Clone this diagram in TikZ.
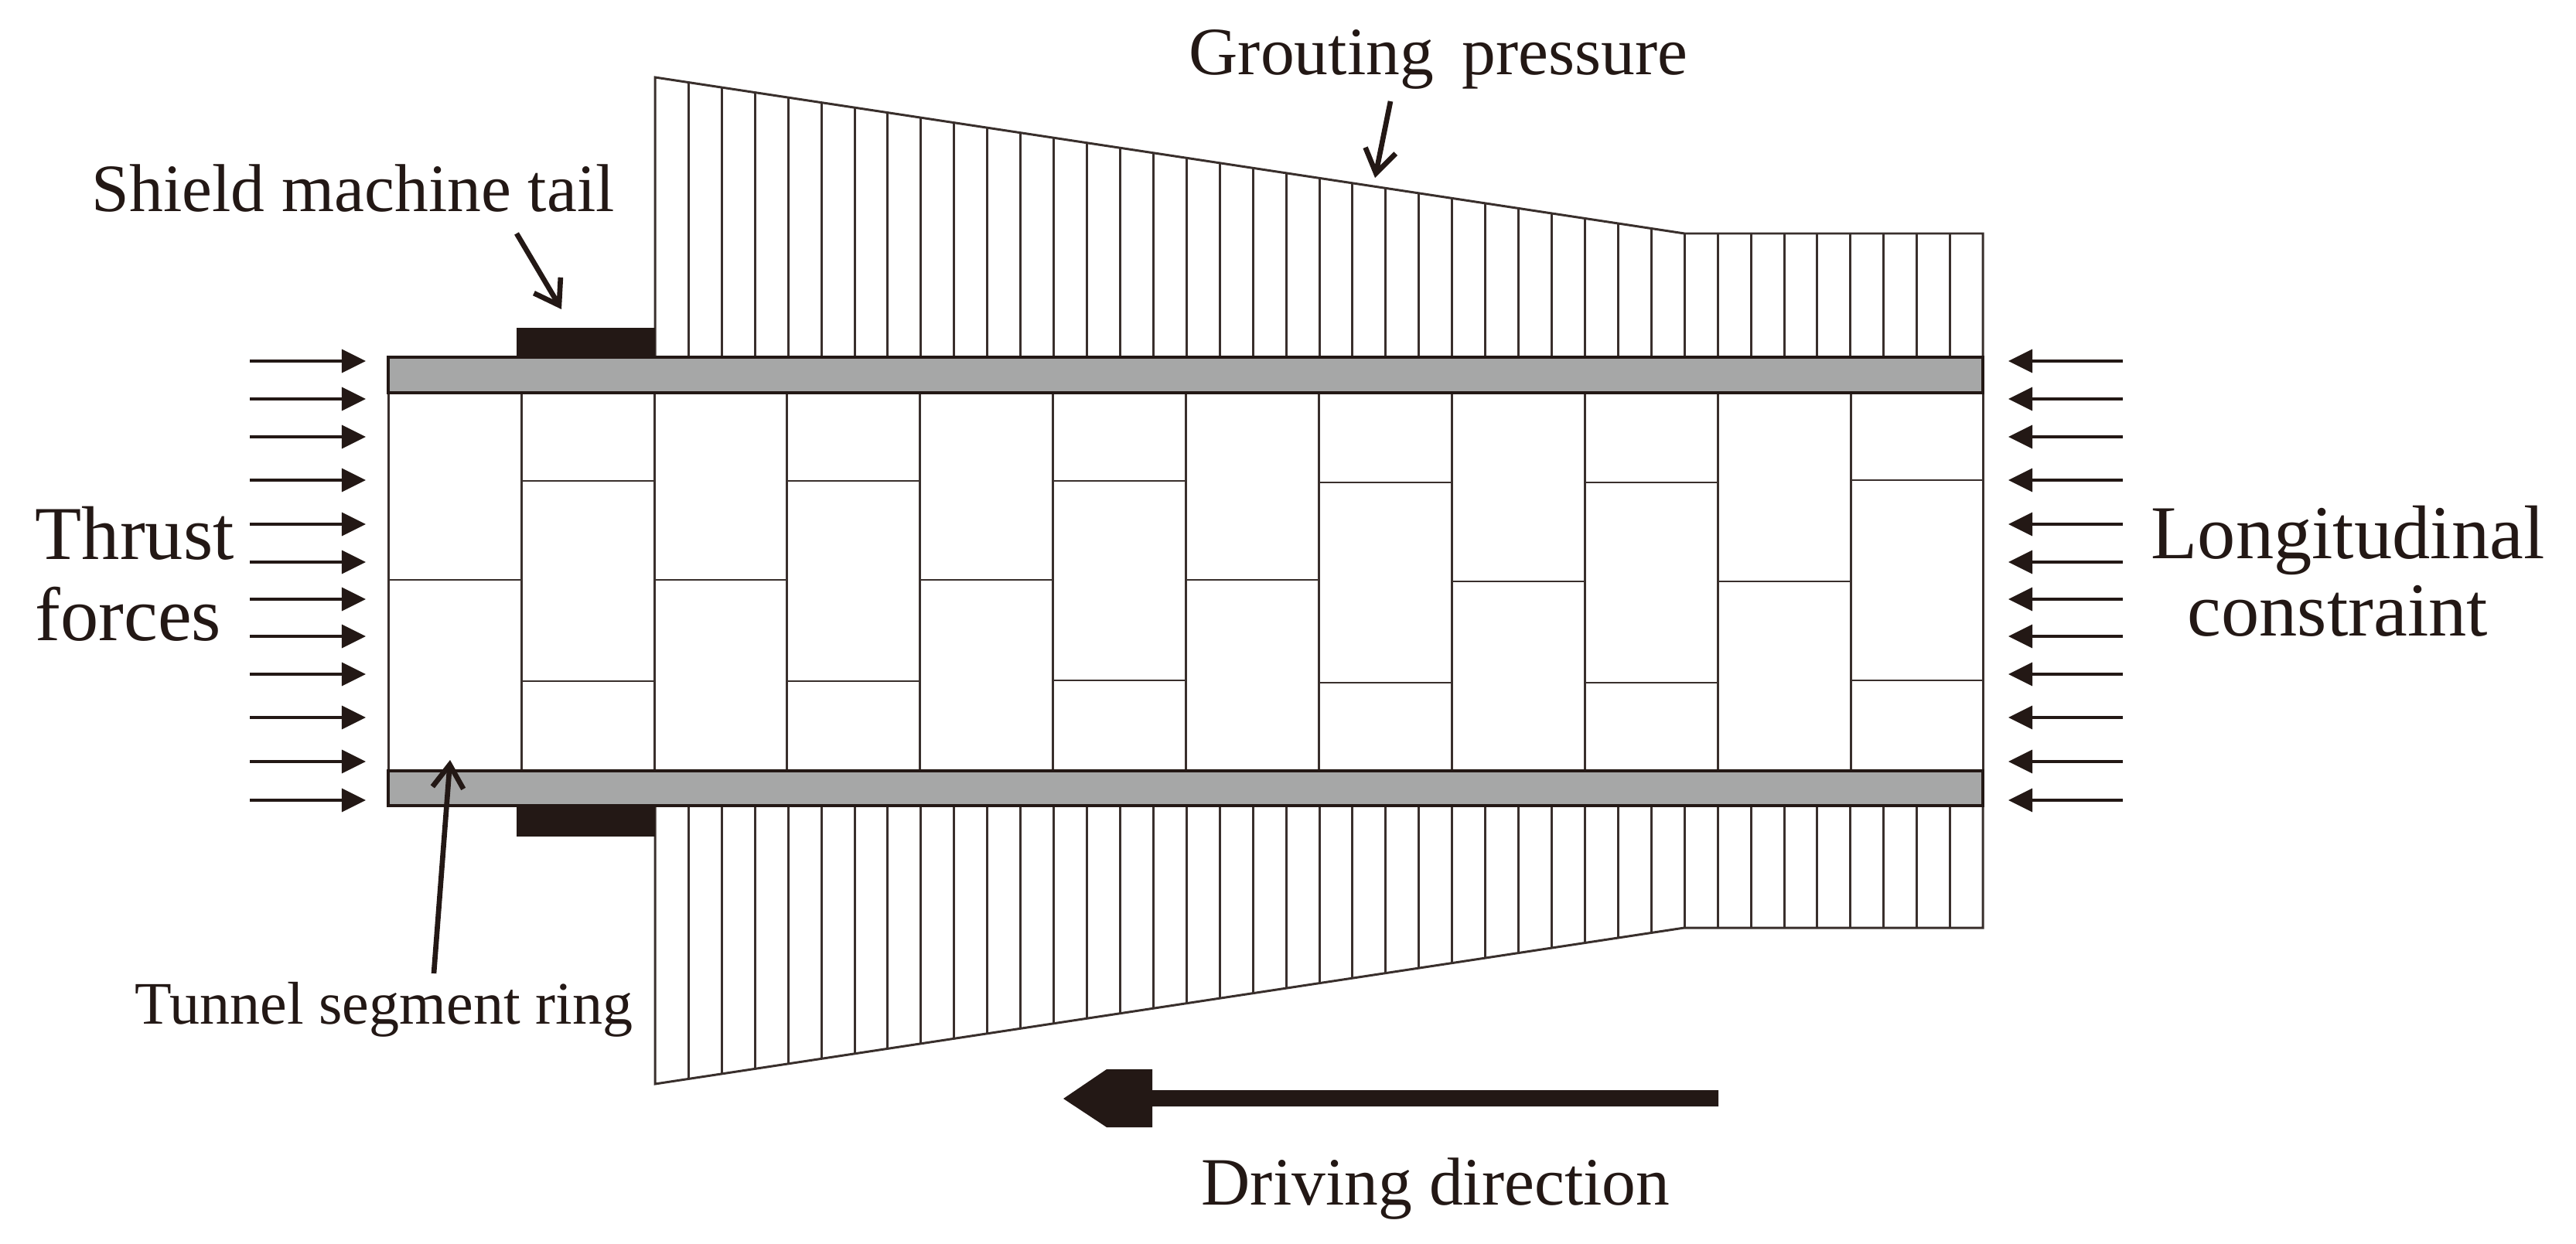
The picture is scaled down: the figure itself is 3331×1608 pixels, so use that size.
\documentclass[tikz,border=0pt]{standalone}
\usepackage{fontspec}
\setmainfont{Liberation Serif}
\usetikzlibrary{arrows.meta}
\definecolor{inkblack}{HTML}{231815}
\definecolor{ringgray}{HTML}{A6A7A7}
\tikzset{
  thinline/.style={draw=inkblack!90, line width=0.85pt},
  ringbar/.style={draw=inkblack, fill=ringgray, line width=0.95pt},
  tailblock/.style={fill=inkblack},
  forcearrow/.style={draw=inkblack, line width=0.9pt, -{Triangle[length=0.31cm, width=0.3cm, fill=inkblack]}},
  pointerarrow/.style={draw=inkblack, line width=1.9pt, -{Straight Barb[length=0.3cm, width=0.4cm]}},
  labelsmall/.style={inner sep=0pt, anchor=base west, text=inkblack, font=\fontsize{22.2}{26}\selectfont},
  labelmid/.style={inner sep=0pt, anchor=base west, text=inkblack, font=\fontsize{24.9}{30}\selectfont},
  labelbig/.style={inner sep=0pt, anchor=base west, text=inkblack, font=\fontsize{28}{34}\selectfont},
}
\begin{document}
\begin{tikzpicture}[x=.01cm, y=.01cm]
\useasboundingbox (0,0) rectangle (3331,1608);
% top pressure block
\draw[thinline] (847,1146) -- (847,1508) -- (2178,1306) -- (2564,1306) -- (2564,1146);
\draw[thinline] (890,1146) -- (890,1501);
\draw[thinline] (933,1146) -- (933,1495);
\draw[thinline] (976,1146) -- (976,1488);
\draw[thinline] (1019,1146) -- (1019,1482);
\draw[thinline] (1062,1146) -- (1062,1475);
\draw[thinline] (1105,1146) -- (1105,1469);
\draw[thinline] (1147,1146) -- (1147,1462);
\draw[thinline] (1190,1146) -- (1190,1456);
\draw[thinline] (1233,1146) -- (1233,1449);
\draw[thinline] (1276,1146) -- (1276,1443);
\draw[thinline] (1319,1146) -- (1319,1436);
\draw[thinline] (1362,1146) -- (1362,1430);
\draw[thinline] (1405,1146) -- (1405,1423);
\draw[thinline] (1448,1146) -- (1448,1417);
\draw[thinline] (1491,1146) -- (1491,1410);
\draw[thinline] (1534,1146) -- (1534,1404);
\draw[thinline] (1577,1146) -- (1577,1397);
\draw[thinline] (1620,1146) -- (1620,1391);
\draw[thinline] (1663,1146) -- (1663,1384);
\draw[thinline] (1706,1146) -- (1706,1378);
\draw[thinline] (1748,1146) -- (1748,1371);
\draw[thinline] (1791,1146) -- (1791,1365);
\draw[thinline] (1834,1146) -- (1834,1358);
\draw[thinline] (1877,1146) -- (1877,1352);
\draw[thinline] (1920,1146) -- (1920,1345);
\draw[thinline] (1963,1146) -- (1963,1339);
\draw[thinline] (2006,1146) -- (2006,1332);
\draw[thinline] (2049,1146) -- (2049,1326);
\draw[thinline] (2092,1146) -- (2092,1319);
\draw[thinline] (2135,1146) -- (2135,1313);
\draw[thinline] (2178,1146) -- (2178,1306);
\draw[thinline] (2221,1146) -- (2221,1306);
\draw[thinline] (2264,1146) -- (2264,1306);
\draw[thinline] (2307,1146) -- (2307,1306);
\draw[thinline] (2349,1146) -- (2349,1306);
\draw[thinline] (2392,1146) -- (2392,1306);
\draw[thinline] (2435,1146) -- (2435,1306);
\draw[thinline] (2478,1146) -- (2478,1306);
\draw[thinline] (2521,1146) -- (2521,1306);
% bottom pressure block
\draw[thinline] (847,566) -- (847,206) -- (2178,408) -- (2564,408) -- (2564,566);
\draw[thinline] (890,566) -- (890,213);
\draw[thinline] (933,566) -- (933,219);
\draw[thinline] (976,566) -- (976,226);
\draw[thinline] (1019,566) -- (1019,232);
\draw[thinline] (1062,566) -- (1062,239);
\draw[thinline] (1105,566) -- (1105,245);
\draw[thinline] (1147,566) -- (1147,252);
\draw[thinline] (1190,566) -- (1190,258);
\draw[thinline] (1233,566) -- (1233,265);
\draw[thinline] (1276,566) -- (1276,271);
\draw[thinline] (1319,566) -- (1319,278);
\draw[thinline] (1362,566) -- (1362,284);
\draw[thinline] (1405,566) -- (1405,291);
\draw[thinline] (1448,566) -- (1448,297);
\draw[thinline] (1491,566) -- (1491,304);
\draw[thinline] (1534,566) -- (1534,310);
\draw[thinline] (1577,566) -- (1577,317);
\draw[thinline] (1620,566) -- (1620,323);
\draw[thinline] (1663,566) -- (1663,330);
\draw[thinline] (1706,566) -- (1706,336);
\draw[thinline] (1748,566) -- (1748,343);
\draw[thinline] (1791,566) -- (1791,349);
\draw[thinline] (1834,566) -- (1834,356);
\draw[thinline] (1877,566) -- (1877,362);
\draw[thinline] (1920,566) -- (1920,369);
\draw[thinline] (1963,566) -- (1963,375);
\draw[thinline] (2006,566) -- (2006,382);
\draw[thinline] (2049,566) -- (2049,388);
\draw[thinline] (2092,566) -- (2092,395);
\draw[thinline] (2135,566) -- (2135,401);
\draw[thinline] (2178,566) -- (2178,408);
\draw[thinline] (2221,566) -- (2221,408);
\draw[thinline] (2264,566) -- (2264,408);
\draw[thinline] (2307,566) -- (2307,408);
\draw[thinline] (2349,566) -- (2349,408);
\draw[thinline] (2392,566) -- (2392,408);
\draw[thinline] (2435,566) -- (2435,408);
\draw[thinline] (2478,566) -- (2478,408);
\draw[thinline] (2521,566) -- (2521,408);
% segment columns
\draw[thinline] (502,1100) -- (502,611);
\draw[thinline] (674,1100) -- (674,611);
\draw[thinline] (846,1100) -- (846,611);
\draw[thinline] (1017,1100) -- (1017,611);
\draw[thinline] (1189,1100) -- (1189,611);
\draw[thinline] (1361,1100) -- (1361,611);
\draw[thinline] (1533,1100) -- (1533,611);
\draw[thinline] (1705,1100) -- (1705,611);
\draw[thinline] (1877,1100) -- (1877,611);
\draw[thinline] (2049,1100) -- (2049,611);
\draw[thinline] (2221,1100) -- (2221,611);
\draw[thinline] (2393,1100) -- (2393,611);
\draw[thinline] (2564,1100) -- (2564,611);
% segment joints
\draw[thinline] (502,858) -- (674,858);
\draw[thinline] (674,986) -- (846,986);
\draw[thinline] (674,727) -- (846,727);
\draw[thinline] (846,858) -- (1017,858);
\draw[thinline] (1017,986) -- (1189,986);
\draw[thinline] (1017,727) -- (1189,727);
\draw[thinline] (1189,858) -- (1361,858);
\draw[thinline] (1361,986) -- (1533,986);
\draw[thinline] (1361,728) -- (1533,728);
\draw[thinline] (1533,858) -- (1705,858);
\draw[thinline] (1705,984) -- (1877,984);
\draw[thinline] (1705,725) -- (1877,725);
\draw[thinline] (1877,856) -- (2049,856);
\draw[thinline] (2049,984) -- (2221,984);
\draw[thinline] (2049,725) -- (2221,725);
\draw[thinline] (2221,856) -- (2393,856);
\draw[thinline] (2393,987) -- (2564,987);
\draw[thinline] (2393,728) -- (2564,728);
% ring bars and tail
\draw[ringbar] (502,1146) rectangle (2564,1100);
\draw[ringbar] (502,611) rectangle (2564,566);
\fill[tailblock] (668,1184) rectangle (847,1146);
\fill[tailblock] (668,566) rectangle (847,526);
% thrust arrows
\coordinate (ta0) at (323,1141); \coordinate (tb0) at (473,1141);
\coordinate (ta1) at (323,1092); \coordinate (tb1) at (473,1092);
\coordinate (ta2) at (323,1043); \coordinate (tb2) at (473,1043);
\coordinate (ta3) at (323,987); \coordinate (tb3) at (473,987);
\coordinate (ta4) at (323,930); \coordinate (tb4) at (473,930);
\coordinate (ta5) at (323,881); \coordinate (tb5) at (473,881);
\coordinate (ta6) at (323,833); \coordinate (tb6) at (473,833);
\coordinate (ta7) at (323,785); \coordinate (tb7) at (473,785);
\coordinate (ta8) at (323,736); \coordinate (tb8) at (473,736);
\coordinate (ta9) at (323,680); \coordinate (tb9) at (473,680);
\coordinate (ta10) at (323,623); \coordinate (tb10) at (473,623);
\coordinate (ta11) at (323,573); \coordinate (tb11) at (473,573);
\draw[forcearrow] (ta0) -- (tb0);
\draw[forcearrow] (ta1) -- (tb1);
\draw[forcearrow] (ta2) -- (tb2);
\draw[forcearrow] (ta3) -- (tb3);
\draw[forcearrow] (ta4) -- (tb4);
\draw[forcearrow] (ta5) -- (tb5);
\draw[forcearrow] (ta6) -- (tb6);
\draw[forcearrow] (ta7) -- (tb7);
\draw[forcearrow] (ta8) -- (tb8);
\draw[forcearrow] (ta9) -- (tb9);
\draw[forcearrow] (ta10) -- (tb10);
\draw[forcearrow] (ta11) -- (tb11);
% constraint arrows
\coordinate (ca0) at (2745,1141); \coordinate (cb0) at (2597,1141);
\coordinate (ca1) at (2745,1092); \coordinate (cb1) at (2597,1092);
\coordinate (ca2) at (2745,1043); \coordinate (cb2) at (2597,1043);
\coordinate (ca3) at (2745,987); \coordinate (cb3) at (2597,987);
\coordinate (ca4) at (2745,930); \coordinate (cb4) at (2597,930);
\coordinate (ca5) at (2745,881); \coordinate (cb5) at (2597,881);
\coordinate (ca6) at (2745,833); \coordinate (cb6) at (2597,833);
\coordinate (ca7) at (2745,785); \coordinate (cb7) at (2597,785);
\coordinate (ca8) at (2745,736); \coordinate (cb8) at (2597,736);
\coordinate (ca9) at (2745,680); \coordinate (cb9) at (2597,680);
\coordinate (ca10) at (2745,623); \coordinate (cb10) at (2597,623);
\coordinate (ca11) at (2745,573); \coordinate (cb11) at (2597,573);
\draw[forcearrow] (ca0) -- (cb0);
\draw[forcearrow] (ca1) -- (cb1);
\draw[forcearrow] (ca2) -- (cb2);
\draw[forcearrow] (ca3) -- (cb3);
\draw[forcearrow] (ca4) -- (cb4);
\draw[forcearrow] (ca5) -- (cb5);
\draw[forcearrow] (ca6) -- (cb6);
\draw[forcearrow] (ca7) -- (cb7);
\draw[forcearrow] (ca8) -- (cb8);
\draw[forcearrow] (ca9) -- (cb9);
\draw[forcearrow] (ca10) -- (cb10);
\draw[forcearrow] (ca11) -- (cb11);
% labels
\node[labelmid] (tail) at (118,1334) {Shield machine tail};
\node[labelsmall] (ring) at (174,284) {Tunnel segment ring};
\node[labelmid] (grout) at (1537,1511) {Grouting\, pressure};
\node[labelmid] (drive) at (1553,50) {Driving direction};
\node[labelbig] (thrust) at (45,885) {Thrust};
\node[labelbig] (forces) at (45,780) {forces};
\node[labelbig] (longi) at (2781,886) {Longitudinal};
\node[labelbig] (constr) at (2828,786) {constraint};
% pointers
\coordinate (pa0) at (668,1306); \coordinate (pb0) at (726,1208);
\coordinate (pa1) at (561,349); \coordinate (pb1) at (582,625);
\coordinate (pa2) at (1798,1477); \coordinate (pb2) at (1778,1378);
\draw[pointerarrow] (pa0) -- (pb0);
\draw[pointerarrow] (pa1) -- (pb1);
\draw[pointerarrow] (pa2) -- (pb2);
% driving arrow
\fill[tailblock] (2222,198) -- (1490,198) -- (1490,150) -- (1431,150) -- (1375,187) -- (1431,225) -- (1490,225) -- (1490,177) -- (2222,177) -- cycle;
\end{tikzpicture}
\end{document}
